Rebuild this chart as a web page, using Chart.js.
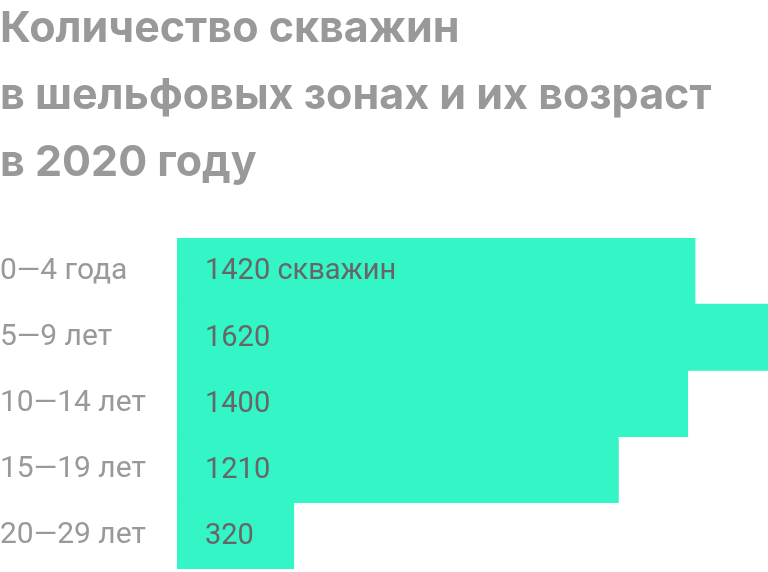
<!DOCTYPE html>
<html>
<head>
<meta charset="utf-8">
<script src="https://cdn.jsdelivr.net/npm/chart.js@4/dist/chart.umd.min.js"></script>
<style>
  html, body { margin: 0; padding: 0; background: #fff; }
  #wrap { width: 768px; height: 572px; position: relative; }
</style>
</head>
<body>
<div id="wrap"><canvas id="chart"></canvas></div>
<script>
const titleLines = ['Количество скважин', 'в шельфовых зонах и их возраст', 'в 2020 году'];
const ageGroups = ['0—4 года', '5—9 лет', '10—14 лет', '15—19 лет', '20—29 лет'];
const wellCounts = [1420, 1620, 1400, 1210, 320];
const valueLabels = ['1420 скважин', '1620', '1400', '1210', '320'];

// values written inside bars, near the left edge
const barText = {
    id: 'barText',
    afterDatasetsDraw(chart) {
        const ctx = chart.ctx;
        const meta = chart.getDatasetMeta(0);
        ctx.save();
        ctx.fillStyle = '#666666';
        ctx.font = '29px Roboto';
        ctx.textAlign = 'left';
        ctx.textBaseline = 'middle';
        meta.data.forEach((bar, i) => {
            ctx.fillText(valueLabels[i], bar.base + 28, bar.y + 1);
        });
        ctx.restore();
    }
};

const ctx = document.getElementById('chart').getContext('2d');
new Chart(ctx, {
    type: 'bar',
    data: {
        labels: ageGroups,
        datasets: [{
            data: wellCounts,
            backgroundColor: '#33f5c5',
            borderWidth: 0,
            barPercentage: 1,
            categoryPercentage: 1
        }]
    },
    options: {
        indexAxis: 'y',
        responsive: true,
        maintainAspectRatio: false,
        animation: false,
        layout: { padding: { left: 0, right: 0, top: 0, bottom: 3 } },
        plugins: {
            legend: { display: false },
            tooltip: { enabled: false },
            title: {
                display: true,
                text: titleLines,
                align: 'start',
                color: '#999999',
                font: { family: 'Inter', weight: 'bold', size: 43, lineHeight: 1.55 },
                padding: { top: -4, bottom: 42 }
            }
        },
        scales: {
            x: { display: false, min: 0, max: 1620 },
            y: {
                grid: { display: false },
                border: { display: false },
                afterFit(scale) {
                    scale.width = 177;
                    scale.paddingTop = 0;
                    scale.paddingBottom = 0;
                },
                ticks: {
                    crossAlign: 'far',
                    padding: 0,
                    color: '#999999',
                    font: { family: 'Roboto', size: 30 }
                }
            }
        }
    },
    plugins: [barText]
});
</script>
</body>
</html>
